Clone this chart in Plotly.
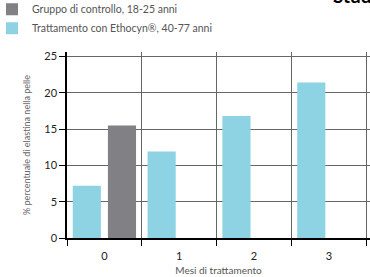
import plotly.graph_objects as go

categories = [0, 1, 2, 3]
tick_labels = ["0", "1", "2", "3"]
treated = [7.2, 11.9, 16.8, 21.4]
control = [15.5, None, None, None]

teal = "#8DD3E3"
gray = "#808085"
font = "Lato"

fig = go.Figure()
fig.add_trace(go.Bar(x=categories, y=treated, name="Trattamento con Ethocyn®, 40-77 anni",
                     marker=dict(color=teal, line=dict(width=0)), legendrank=2))
fig.add_trace(go.Bar(x=categories, y=control, name="Gruppo di controllo, 18-25 anni",
                     marker=dict(color=gray, line=dict(width=0)), legendrank=1))

fig.update_layout(
    width=370, height=277,
    margin=dict(l=67, r=0, t=52, b=39, autoexpand=False),
    paper_bgcolor="white", plot_bgcolor="white",
    barmode="group", bargap=0.06, bargroupgap=0.2,
    font=dict(family=font, color="#333"),
    showlegend=True,
    legend=dict(x=-0.2475, y=1.308, xanchor="left", yanchor="top",
                font=dict(size=10.5, color="#555", family=font), bgcolor="rgba(0,0,0,0)",
                tracegroupgap=0, itemwidth=30),
    xaxis=dict(
        range=[-0.5, 3.55], tickmode="array", tickvals=categories, ticktext=tick_labels,
        ticks="", showgrid=False, zeroline=False,
        showline=True, linecolor="black", linewidth=1.5,
        tickfont=dict(size=11, color="#222", family=font), ticklabelstandoff=7,
        minor=dict(tickmode="array", tickvals=[-0.5, 0.5, 1.5, 2.5, 3.5], ticks="outside",
                   ticklen=6, tickcolor="black", tickwidth=1.2,
                   showgrid=True, gridcolor="#666", gridwidth=1.4),
        title=dict(text="Mesi di trattamento", font=dict(size=10, color="#555", family=font), standoff=6),
    ),
    yaxis=dict(
        range=[0, 25.6], tickmode="array", tickvals=[0, 5, 10, 15, 20, 25],
        ticks="outside", ticklen=6, tickcolor="black", tickwidth=1.2,
        showgrid=True, gridcolor="#666", gridwidth=1.4, zeroline=False,
        showline=True, linecolor="black", linewidth=1.5,
        tickfont=dict(size=11, color="#222", family=font),
        title=dict(text="% percentuale di elastina nella pelle", font=dict(size=9, color="#666", family=font), standoff=12),
    ),
    annotations=[dict(text="<b>Studio clinico</b>", xref="paper", yref="paper", x=0.872, y=1.23,
                      xanchor="left", yanchor="bottom", showarrow=False,
                      font=dict(size=19, color="black", family=font))],
)

fig.write_html("out.html", config={"displayModeBar": False},
               post_script="document.body.style.margin='0';")
